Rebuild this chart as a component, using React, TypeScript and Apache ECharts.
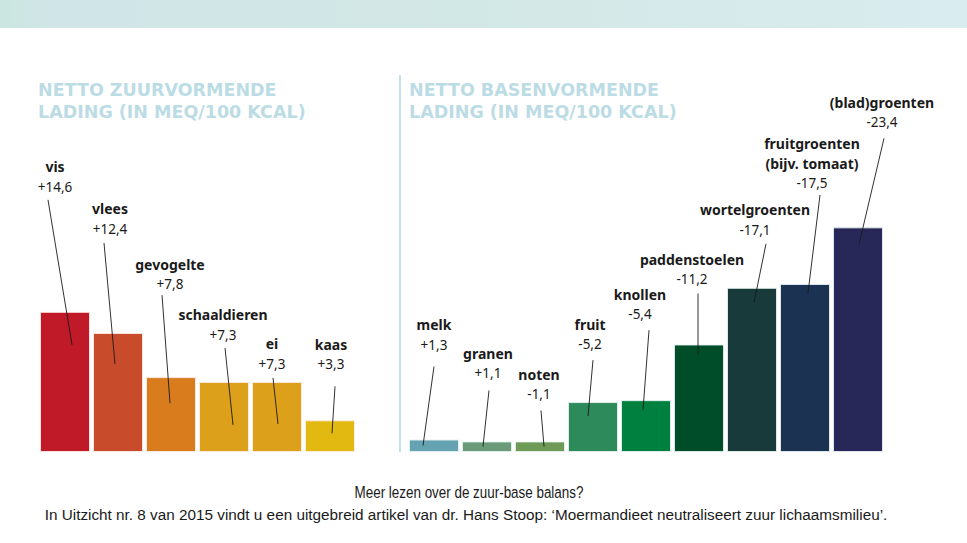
import React, { useEffect, useRef } from "react";
import * as echarts from "echarts";

// ---- data ----
const acidNames = ["vis", "vlees", "gevogelte", "schaaldieren", "ei", "kaas"];
const acidValues = [14.6, 12.4, 7.8, 7.3, 7.3, 3.3];
const acidColors = ["#c01a28", "#c84c2b", "#d97c1d", "#dda01a", "#dda01a", "#e2b911"];

const baseNames = [
  "melk",
  "granen",
  "noten",
  "fruit",
  "knollen",
  "paddenstoelen",
  "wortelgroenten",
  "fruitgroenten\n(bijv. tomaat)",
  "(blad)groenten",
];
const baseValues = [1.3, 1.1, -1.1, -5.2, -5.4, -11.2, -17.1, -17.5, -23.4];
const baseColors = [
  "#65a3b3", "#6a9a78", "#6e9a57", "#2d8a5a", "#00803f",
  "#004d2a", "#183a3a", "#1b3253", "#272857",
];

const acidTitle = "NETTO ZUURVORMENDE\nLADING (IN MEQ/100 KCAL)";
const baseTitle = "NETTO BASENVORMENDE\nLADING (IN MEQ/100 KCAL)";
const footerTitle = "Meer lezen over de zuur-base balans?";
const footerText =
  "In Uitzicht nr. 8 van 2015 vindt u een uitgebreid artikel van dr. Hans Stoop: \u2018Moermandieet neutraliseert zuur lichaamsmilieu\u2019.";

// ---- label layout (pixel offsets relative to bar top centre) ----
// [nameDx, nameDy, lineStartDx, lineStartDy, lineEndDx, lineEndDy]
const acidLabelLayout = [
  [-10, -145, -17, -112, 7, 33],
  [-8, -124, -14, -90, -3, 31],
  [-1, -113, -9, -82, -1, 26],
  [-1, -67, 1, -34, 9, 43],
  [-5, -38, -4, -4, 1, 42],
  [1, -76, 5, -34, 2, 13],
];
const baseLabelLayout = [
  [0, -115, 0, -73, -11, 6],
  [1, -88, 2, -51, -4, 5],
  [-1, -67, 1, -31, 4, 5],
  [-3, -78, 0, -42, -5, 14],
  [-6, -106, 3, -70, -3, 10],
  [-7, -85, -1, -51, -1, 10],
  [3, -78, 14, -44, 2, 15],
  [7, -141, 15, -89, 3, 9],
  [24, -125, 26, -89, 1, 17],
];

const fmt = (v: number) =>
  (v > 0 ? "+" : "-") + Math.abs(v).toFixed(1).replace(".", ",");

const FONT = "'Noto Sans', 'Open Sans', sans-serif";

function labelSeries(
  names: string[],
  signed: number[],
  layout: number[][],
  axisIndex: number
) {
  return {
    type: "custom",
    xAxisIndex: axisIndex,
    yAxisIndex: axisIndex,
    clip: false,
    z: 5,
    silent: true,
    data: signed.map((v, i) => [i, Math.abs(v)]),
    encode: { x: 0, y: 1 },
    renderItem: (params: any, api: any) => {
      const i = api.value(0);
      const v = api.value(1);
      const p = api.coord([i, v]);
      const [ndx, ndy, sdx, sdy, edx, edy] = layout[i];
      const name = names[i];
      const lines = name.split("\n").length;
      const nameTop = p[1] + ndy - 10;
      return {
        type: "group",
        children: [
          {
            type: "line",
            shape: {
              x1: p[0] + sdx,
              y1: p[1] + sdy,
              x2: p[0] + edx,
              y2: p[1] + edy,
            },
            style: { stroke: "#1a1a1a", lineWidth: 0.9 },
          },
          {
            type: "text",
            style: {
              text: name,
              x: p[0] + ndx,
              y: nameTop,
              textAlign: "center",
              textVerticalAlign: "top",
              fontFamily: FONT,
              fontWeight: "bold",
              fontSize: 14,
              lineHeight: 20,
              fill: "#1a1a1a",
            },
          },
          {
            type: "text",
            style: {
              text: fmt(signed[i]),
              x: p[0] + ndx,
              y: nameTop + 20 * lines,
              textAlign: "center",
              textVerticalAlign: "top",
              fontFamily: FONT,
              fontSize: 13.5,
              lineHeight: 20,
              fill: "#1a1a1a",
            },
          },
        ],
      };
    },
  };
}

export default function App() {
  const ref = useRef<HTMLDivElement>(null);

  useEffect(() => {
    if (!ref.current) return;
    const chart = echarts.init(ref.current, null, { renderer: "svg" });

    const barData = (vals: number[], colors: string[]) =>
      vals.map((v, i) => ({
        value: Math.abs(v),
        itemStyle: { color: colors[i] },
      }));

    const titleStyle = {
      fontFamily: "'DejaVu Sans', sans-serif",
      fontWeight: "bold",
      fontSize: 17.5,
      lineHeight: 22,
      fill: "#bcdce5",
    };

    const option: any = {
      animation: false,
      backgroundColor: "#ffffff",
      grid: [
        { left: 38.5, width: 318, top: 212, height: 240 },
        { left: 407.5, width: 477, top: 212, height: 240 },
      ],
      xAxis: [
        { type: "category", gridIndex: 0, data: acidNames, show: false },
        { type: "category", gridIndex: 1, data: baseNames, show: false },
      ],
      yAxis: [
        { type: "value", gridIndex: 0, min: 0, max: 25, show: false },
        { type: "value", gridIndex: 1, min: 0, max: 25, show: false },
      ],
      series: [
        {
          type: "bar",
          xAxisIndex: 0,
          yAxisIndex: 0,
          barWidth: 50,
          itemStyle: { borderColor: "rgba(255,235,230,0.9)", borderWidth: 1 },
          data: barData(acidValues, acidColors),
        },
        {
          type: "bar",
          xAxisIndex: 1,
          yAxisIndex: 1,
          barWidth: 50,
          itemStyle: { borderColor: "rgba(230,240,240,0.9)", borderWidth: 1 },
          data: barData(baseValues, baseColors),
        },
        labelSeries(acidNames, acidValues, acidLabelLayout, 0),
        labelSeries(baseNames, baseValues, baseLabelLayout, 1),
      ],
      graphic: [
        {
          type: "rect",
          left: 0,
          top: 0,
          shape: { width: 967, height: 28 },
          style: {
            fill: new echarts.graphic.LinearGradient(0, 0, 1, 0, [
              { offset: 0, color: "#cae6e0" },
              { offset: 0.05, color: "#d0e5e7" },
              { offset: 0.5, color: "#d2e8e6" },
              { offset: 1, color: "#d9ecef" },
            ]),
          },
          silent: true,
        },
        {
          type: "line",
          shape: { x1: 400, y1: 75, x2: 400, y2: 452 },
          style: { stroke: "#c3e1e8", lineWidth: 2 },
          silent: true,
        },
        {
          type: "text",
          x: 38,
          y: 79,
          style: { text: acidTitle, ...titleStyle },
        },
        {
          type: "text",
          x: 409,
          y: 79,
          style: { text: baseTitle, ...titleStyle },
        },
        {
          type: "text",
          x: 469,
          y: 492,
          scaleX: 0.79,
          style: {
            text: footerTitle,
            textAlign: "center",
            textVerticalAlign: "middle",
            fontFamily: "'Liberation Sans', sans-serif",
            fontSize: 17,
            fill: "#1a1a1a",
          },
        },
        {
          type: "text",
          x: 466,
          y: 514,
          style: {
            text: footerText,
            textAlign: "center",
            textVerticalAlign: "middle",
            fontFamily: "'Liberation Sans', sans-serif",
            fontSize: 15.3,
            fill: "#1a1a1a",
          },
        },
      ],
    };

    chart.setOption(option);
    return () => chart.dispose();
  }, []);

  return (
    <div
      ref={ref}
      style={{ position: "fixed", left: 0, top: 0, width: 967, height: 543 }}
    />
  );
}
